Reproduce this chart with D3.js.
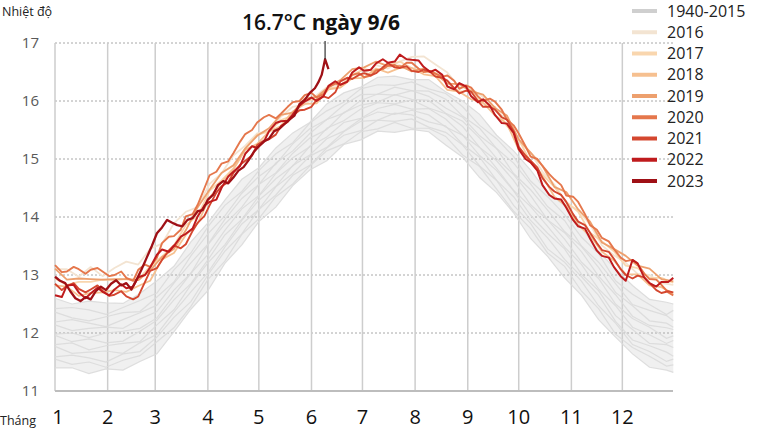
<!DOCTYPE html>
<html><head><meta charset="utf-8">
<script src="https://cdn.jsdelivr.net/npm/d3@7"></script>
<style>
html,body{margin:0;padding:0;background:#fff;}
svg{display:block;font-family:"Open Sans","Noto Sans",sans-serif;}
</style></head>
<body>
<svg id="chart" width="768" height="434"></svg>
<script>
// ---------- DATA ----------
const monthLabels = ["1","2","3","4","5","6","7","8","9","10","11","12"];
const monthStartDays = [0,31,59,90,120,151,181,212,243,273,304,334];
const yTicks = [11,12,13,14,15,16,17];
const legendLabels = ["1940-2015","2016","2017","2018","2019","2020","2021","2022","2023"];
const legendColors = ["#cfcfcf","#f3e4d2","#f9d6ae","#f6c090","#eda06e","#e5774c","#d4472f","#bf1b1d","#9f1016"];

// grey years 1940-2015 (sampled every 10 days, last at day 364)
const greyDays = [0,10,20,30,40,50,60,70,80,90,100,110,120,130,140,150,160,170,180,190,200,210,220,230,240,250,260,270,280,290,300,310,320,330,340,350,360,364];
const greyA = [11.40,11.40,11.30,11.38,11.36,11.51,11.64,12.02,12.41,12.73,13.20,13.52,13.92,14.17,14.54,14.81,14.97,15.25,15.33,15.48,15.46,15.51,15.47,15.24,15.03,14.68,14.42,14.07,13.63,13.32,12.95,12.65,12.23,11.93,11.64,11.41,11.36,11.32];
const greyB = [11.55,11.46,11.50,11.41,11.53,11.61,11.85,12.09,12.46,12.92,13.24,13.70,13.97,14.35,14.57,14.88,15.14,15.26,15.47,15.52,15.63,15.53,15.53,15.39,15.07,14.87,14.48,14.10,13.80,13.38,13.15,12.72,12.42,11.98,11.75,11.60,11.43,11.45];
const greyC = [11.59,11.62,11.57,11.50,11.64,11.68,11.93,12.27,12.54,13.00,13.41,13.71,14.13,14.38,14.72,14.89,15.19,15.41,15.49,15.67,15.65,15.69,15.55,15.46,15.24,14.88,14.63,14.20,13.89,13.45,13.22,12.89,12.47,12.17,11.80,11.68,11.51,11.55];
const greyD = [11.77,11.65,11.67,11.69,11.65,11.83,11.98,12.36,12.71,13.04,13.48,13.88,14.13,14.52,14.75,15.05,15.20,15.47,15.65,15.67,15.79,15.76,15.64,15.57,15.25,15.03,14.63,14.35,13.94,13.64,13.27,12.97,12.65,12.20,11.88,11.78,11.67,11.60];
const greyE = [11.80,11.83,11.71,11.78,11.82,11.85,12.14,12.40,12.83,13.21,13.52,13.94,14.29,14.53,14.89,15.07,15.35,15.48,15.69,15.81,15.77,15.84,15.76,15.55,15.41,15.06,14.80,14.45,14.03,13.72,13.45,13.01,12.73,12.30,12.06,11.82,11.80,11.75];
const greyF = [11.96,11.85,11.90,11.83,11.86,12.03,12.22,12.57,12.85,13.26,13.69,13.96,14.36,14.66,14.88,15.22,15.38,15.63,15.70,15.87,15.94,15.86,15.87,15.69,15.41,15.20,14.84,14.46,14.18,13.84,13.48,13.18,12.76,12.47,12.10,11.97,11.82,11.87];
const greyG = [11.98,12.00,11.92,12.00,12.03,12.08,12.26,12.65,13.03,13.35,13.77,14.14,14.37,14.75,15.02,15.21,15.53,15.66,15.86,15.97,15.95,16.02,15.88,15.78,15.56,15.20,14.97,14.63,14.21,13.95,13.62,13.22,12.94,12.50,12.25,12.10,11.91,11.95];
const greyH = [12.14,12.04,12.08,12.10,12.08,12.24,12.37,12.74,13.03,13.52,13.88,14.17,14.56,14.76,15.10,15.36,15.51,15.80,15.93,15.98,16.11,16.03,16.01,15.79,15.65,15.36,15.01,14.73,14.37,13.95,13.73,13.40,12.98,12.66,12.29,12.13,12.09,12.06];
const greyI = [12.19,12.23,12.17,12.11,12.23,12.35,12.48,12.86,13.21,13.53,13.96,14.32,14.56,14.93,15.14,15.44,15.68,15.79,16.01,16.12,16.10,16.18,16.08,15.88,15.72,15.40,15.18,14.75,14.47,14.12,13.75,13.49,13.13,12.70,12.47,12.21,12.17,12.10];
const greyJ = [12.36,12.26,12.21,12.28,12.35,12.37,12.62,12.88,13.33,13.71,14.02,14.41,14.70,14.91,15.26,15.52,15.68,15.93,16.11,16.12,16.24,16.18,16.17,16.03,15.74,15.53,15.18,14.93,14.57,14.18,13.94,13.50,13.22,12.85,12.49,12.39,12.30,12.21];
const greyK = [12.42,12.44,12.40,12.32,12.44,12.56,12.69,13.09,13.38,13.83,14.20,14.44,14.80,15.09,15.28,15.62,15.83,15.98,16.21,16.28,16.27,16.33,16.21,16.13,15.90,15.58,15.35,15.04,14.62,14.35,14.04,13.65,13.37,12.90,12.67,12.49,12.32,12.39];
const greyL = [12.60,12.50,12.55,12.52,12.51,12.68,12.90,13.15,13.57,13.90,14.29,14.65,14.85,15.19,15.45,15.63,15.95,16.14,16.24,16.41,16.43,16.37,16.37,16.16,16.00,15.77,15.41,15.14,14.81,14.42,14.20,13.82,13.41,13.10,12.82,12.58,12.53,12.50];

// recent years 2016-2019 (sampled every 7 days)
const weekDays = [0,7,14,21,28,35,42,49,56,63,70,77,84,91,98,105,112,119,126,133,140,147,154,161,168,175,182,189,196,203,210,217,224,231,238,245,252,259,266,273,280,287,294,301,308,315,322,329,336,343,350,357,364];
const y2016 = [13.10,13.10,12.97,13.14,12.98,13.12,13.23,13.18,13.45,13.54,13.89,14.09,14.17,14.57,14.75,15.06,15.23,15.44,15.48,15.73,15.90,15.94,16.10,16.26,16.27,16.45,16.46,16.62,16.56,16.68,16.76,16.77,16.63,16.49,16.24,16.21,16.07,15.85,15.69,15.30,15.11,14.78,14.56,14.24,14.11,13.87,13.51,13.34,13.21,13.02,13.00,12.86,12.83];
const y2017 = [12.94,12.83,12.88,12.88,12.92,12.91,12.93,12.92,13.15,13.32,13.51,13.86,14.02,14.45,14.63,14.84,15.19,15.42,15.47,15.67,15.75,16.01,16.03,16.22,16.24,16.45,16.55,16.51,16.62,16.68,16.57,16.50,16.49,16.32,16.16,16.18,15.96,15.90,15.57,15.34,14.94,14.73,14.52,14.26,14.09,13.73,13.58,13.41,13.16,13.12,12.95,12.95,12.87];
const y2018 = [12.82,12.80,12.64,12.69,12.70,12.74,12.71,12.81,12.90,13.27,13.38,13.69,13.89,14.33,14.60,14.82,15.16,15.26,15.47,15.57,15.82,15.95,15.96,16.20,16.23,16.39,16.40,16.56,16.49,16.57,16.57,16.46,16.43,16.19,16.16,16.03,15.97,15.75,15.61,15.16,14.94,14.70,14.35,14.19,13.86,13.68,13.40,13.25,13.01,13.01,12.82,12.79,12.68];
const y2019 = [13.11,12.92,12.94,12.93,12.92,12.93,12.93,12.91,13.08,13.31,13.45,13.77,14.17,14.47,14.76,14.89,15.18,15.40,15.53,15.76,15.80,16.04,16.07,16.24,16.36,16.55,16.58,16.68,16.60,16.61,16.51,16.56,16.47,16.30,16.29,16.17,16.11,15.88,15.75,15.34,15.11,14.88,14.52,14.43,14.13,13.92,13.56,13.45,13.33,13.16,13.11,12.93,12.89];

// recent years 2020-2022 (sampled every 3-4 days)
const halfWeekDays = [0,4,7,11,14,18,21,25,28,32,35,39,42,46,49,53,56,60,63,67,70,74,77,81,84,88,91,95,98,102,105,109,112,116,119,123,126,130,133,137,140,144,147,151,154,158,161,165,168,172,175,179,182,186,189,193,196,200,203,207,210,214,217,221,224,228,231,235,238,242,245,249,252,256,259,263,266,270,273,277,280,284,287,291,294,298,301,305,308,312,315,319,322,326,329,333,336,340,343,347,350,354,357,361,364];
const y2020 = [13.17,13.05,13.06,13.14,13.10,13.02,13.09,13.12,13.06,12.98,13.00,13.06,12.95,12.90,13.09,13.18,13.14,13.30,13.55,13.66,13.67,13.78,14.01,14.05,14.21,14.50,14.72,14.78,14.92,14.96,15.10,15.30,15.43,15.50,15.63,15.72,15.76,15.70,15.78,15.90,15.98,16.00,16.10,16.14,16.06,16.12,16.24,16.30,16.28,16.34,16.45,16.48,16.41,16.44,16.53,16.55,16.61,16.62,16.57,16.66,16.66,16.56,16.50,16.52,16.47,16.42,16.44,16.35,16.21,16.27,16.23,16.08,16.00,16.04,15.99,15.85,15.68,15.58,15.44,15.22,15.04,15.00,14.88,14.74,14.65,14.55,14.37,14.35,14.26,14.05,13.86,13.78,13.64,13.58,13.45,13.30,13.24,13.26,13.19,13.02,12.93,12.92,12.83,12.70,12.65];
const y2021 = [12.85,12.74,12.81,12.86,12.76,12.70,12.75,12.82,12.73,12.64,12.66,12.72,12.63,12.58,12.63,12.88,13.07,13.12,13.26,13.42,13.51,13.46,13.53,13.76,13.90,14.02,14.20,14.42,14.53,14.60,14.76,14.90,14.97,15.06,15.24,15.32,15.34,15.42,15.57,15.64,15.75,15.84,15.85,15.90,16.02,16.08,16.05,16.15,16.34,16.40,16.38,16.45,16.48,16.44,16.48,16.58,16.65,16.58,16.57,16.60,16.52,16.50,16.54,16.50,16.42,16.40,16.35,16.22,16.13,16.18,16.16,16.00,15.90,15.90,15.85,15.72,15.68,15.48,15.21,15.06,14.97,14.85,14.67,14.52,14.44,14.38,14.26,14.05,13.92,13.86,13.73,13.55,13.43,13.40,13.28,13.10,13.00,12.94,12.99,12.96,12.86,12.74,12.69,12.72,12.70];
const y2022 = [12.65,12.62,12.82,12.83,12.70,12.60,12.68,12.78,12.71,12.65,12.75,12.84,12.77,12.80,12.96,13.00,13.13,13.35,13.44,13.40,13.50,13.66,13.71,13.80,14.01,14.20,14.26,14.30,14.50,14.70,14.78,14.88,15.09,15.22,15.19,15.30,15.48,15.62,15.65,15.66,15.77,15.92,15.99,16.06,16.00,16.08,16.26,16.34,16.28,16.33,16.49,16.58,16.52,16.54,16.65,16.72,16.66,16.68,16.80,16.72,16.71,16.70,16.59,16.50,16.54,16.45,16.25,16.20,16.31,16.25,16.08,15.98,16.03,15.92,15.76,15.62,15.61,15.45,15.17,15.00,14.94,14.80,14.55,14.38,14.32,14.30,14.16,13.95,13.84,13.80,13.63,13.42,13.33,13.30,13.14,12.98,12.90,13.26,13.20,12.95,12.86,12.80,12.88,12.88,12.95];

// 2023 (to 11 June)
const days2023 = [0,3,6,9,12,15,18,21,24,27,30,33,36,39,42,45,48,51,54,57,60,63,66,69,72,75,78,81,84,87,90,93,96,99,102,105,108,111,114,117,120,123,126,129,132,135,138,141,144,147,150,153,155,157,159,161];
const y2023 = [12.97,12.90,12.86,12.72,12.60,12.55,12.62,12.58,12.72,12.80,12.74,12.85,12.91,12.82,12.86,12.75,12.92,13.10,13.30,13.50,13.72,13.82,13.95,13.90,13.86,13.84,13.95,13.98,14.10,14.12,14.30,14.38,14.55,14.62,14.58,14.68,14.80,14.86,14.98,15.12,15.22,15.30,15.35,15.48,15.52,15.60,15.68,15.75,15.95,16.02,16.14,16.22,16.32,16.45,16.72,16.55];

const annotationDay = 159;
const annotationValueText = "16.7°C";
const annotationDateText = "ngày 9/6";

// ---------- CHART ----------
const svg = d3.select("#chart");
const x = d3.scaleLinear().domain([0,365]).range([55,675]);
const y = d3.scaleLinear().domain([11,17]).range([391,43]);

const greySeries = [greyA,greyB,greyC,greyD,greyE,greyF,greyG,greyH,greyI,greyJ,greyK,greyL];

// faint envelope of the 1940-2015 lines
const greyArea = d3.area()
  .x((d,i) => x(greyDays[i]))
  .y0((d,i) => y(d3.min(greySeries, s => s[i])))
  .y1((d,i) => y(d3.max(greySeries, s => s[i])));
svg.append("path").datum(greyDays).attr("d", greyArea).attr("fill", "#f0f0f0");

// horizontal dashed grid
svg.append("g").selectAll("line").data(yTicks.filter(t => t > 11)).join("line")
  .attr("x1", x(0)).attr("x2", x(365) - 2)
  .attr("y1", d => y(d)).attr("y2", d => y(d))
  .attr("stroke", "#a8a8a8").attr("stroke-width", 1).attr("stroke-dasharray", "2,2");

// vertical month grid
svg.append("g").selectAll("line").data(monthStartDays).join("line")
  .attr("x1", d => x(d)).attr("x2", d => x(d))
  .attr("y1", y(17)).attr("y2", y(11))
  .attr("stroke", "#cdcdcd").attr("stroke-width", 1.5);

const greyLine = d3.line().x((d,i) => x(greyDays[i])).y(d => y(d));
svg.append("g").selectAll("path").data(greySeries).join("path")
  .attr("d", greyLine).attr("fill", "none")
  .attr("stroke", "#dadada").attr("stroke-width", 1.2).attr("stroke-opacity", 0.9);

// bottom axis line
svg.append("line").attr("x1", x(0)).attr("x2", x(365) - 2)
  .attr("y1", y(11)).attr("y2", y(11))
  .attr("stroke", "#bdbdbd").attr("stroke-width", 2);

const recent = [
  {days: weekDays, vals: y2016, c: legendColors[1], w: 1.8},
  {days: weekDays, vals: y2017, c: legendColors[2], w: 1.8},
  {days: weekDays, vals: y2018, c: legendColors[3], w: 1.8},
  {days: weekDays, vals: y2019, c: legendColors[4], w: 1.8},
  {days: halfWeekDays, vals: y2020, c: legendColors[5], w: 1.9},
  {days: halfWeekDays, vals: y2021, c: legendColors[6], w: 1.9},
  {days: halfWeekDays, vals: y2022, c: legendColors[7], w: 2.0},
  {days: days2023, vals: y2023, c: legendColors[8], w: 2.3}
];
svg.append("g").selectAll("path").data(recent).join("path")
  .attr("d", s => d3.line().x((d,i) => x(s.days[i])).y(d => y(d))(s.vals))
  .attr("fill", "none").attr("stroke", s => s.c).attr("stroke-width", s => s.w)
  .attr("stroke-linejoin", "round");

// y tick labels
svg.append("g").selectAll("text").data(yTicks).join("text")
  .attr("x", 39).attr("y", d => y(d)).attr("dy", "0.35em")
  .attr("text-anchor", "end").attr("font-size", 15).attr("fill", "#595959")
  .text(d => d);

// month labels
svg.append("g").selectAll("text").data(monthLabels).join("text")
  .attr("x", (d,i) => Math.max(x(monthStartDays[i]), 58)).attr("y", 424)
  .attr("text-anchor", "middle").attr("font-size", 20).attr("fill", "#111")
  .text(d => d);

svg.append("text").attr("x", 2).attr("y", 16).attr("font-size", 12.5).attr("fill", "#222").text("Nhiệt độ");
svg.append("text").attr("x", 0).attr("y", 425).attr("font-size", 12.5).attr("fill", "#222").text("Tháng");

// annotation
const peakVal = y2023[days2023.indexOf(annotationDay)];
svg.append("line").attr("x1", x(annotationDay)).attr("x2", x(annotationDay))
  .attr("y1", y(17) - 2).attr("y2", y(peakVal))
  .attr("stroke", "#333").attr("stroke-width", 1.2);
const ann = svg.append("text").attr("x", x(annotationDay) - 4).attr("y", 30)
  .attr("text-anchor", "middle").attr("font-size", 21).attr("fill", "#111");
ann.append("tspan").attr("font-weight", 600).text(annotationValueText + " ");
ann.append("tspan").attr("font-weight", 700).text(annotationDateText);

// legend
const lg = svg.append("g").selectAll("g").data(legendLabels).join("g")
  .attr("transform", (d,i) => `translate(0,${11 + i * 21.25})`);
lg.append("line").attr("x1", 632).attr("x2", 657).attr("y1", 0).attr("y2", 0)
  .attr("stroke", (d,i) => legendColors[i]).attr("stroke-width", 4);
lg.append("text").attr("x", 667).attr("y", 0).attr("dy", "0.35em")
  .attr("font-size", 16).attr("fill", "#222").text(d => d);
</script>
</body></html>
